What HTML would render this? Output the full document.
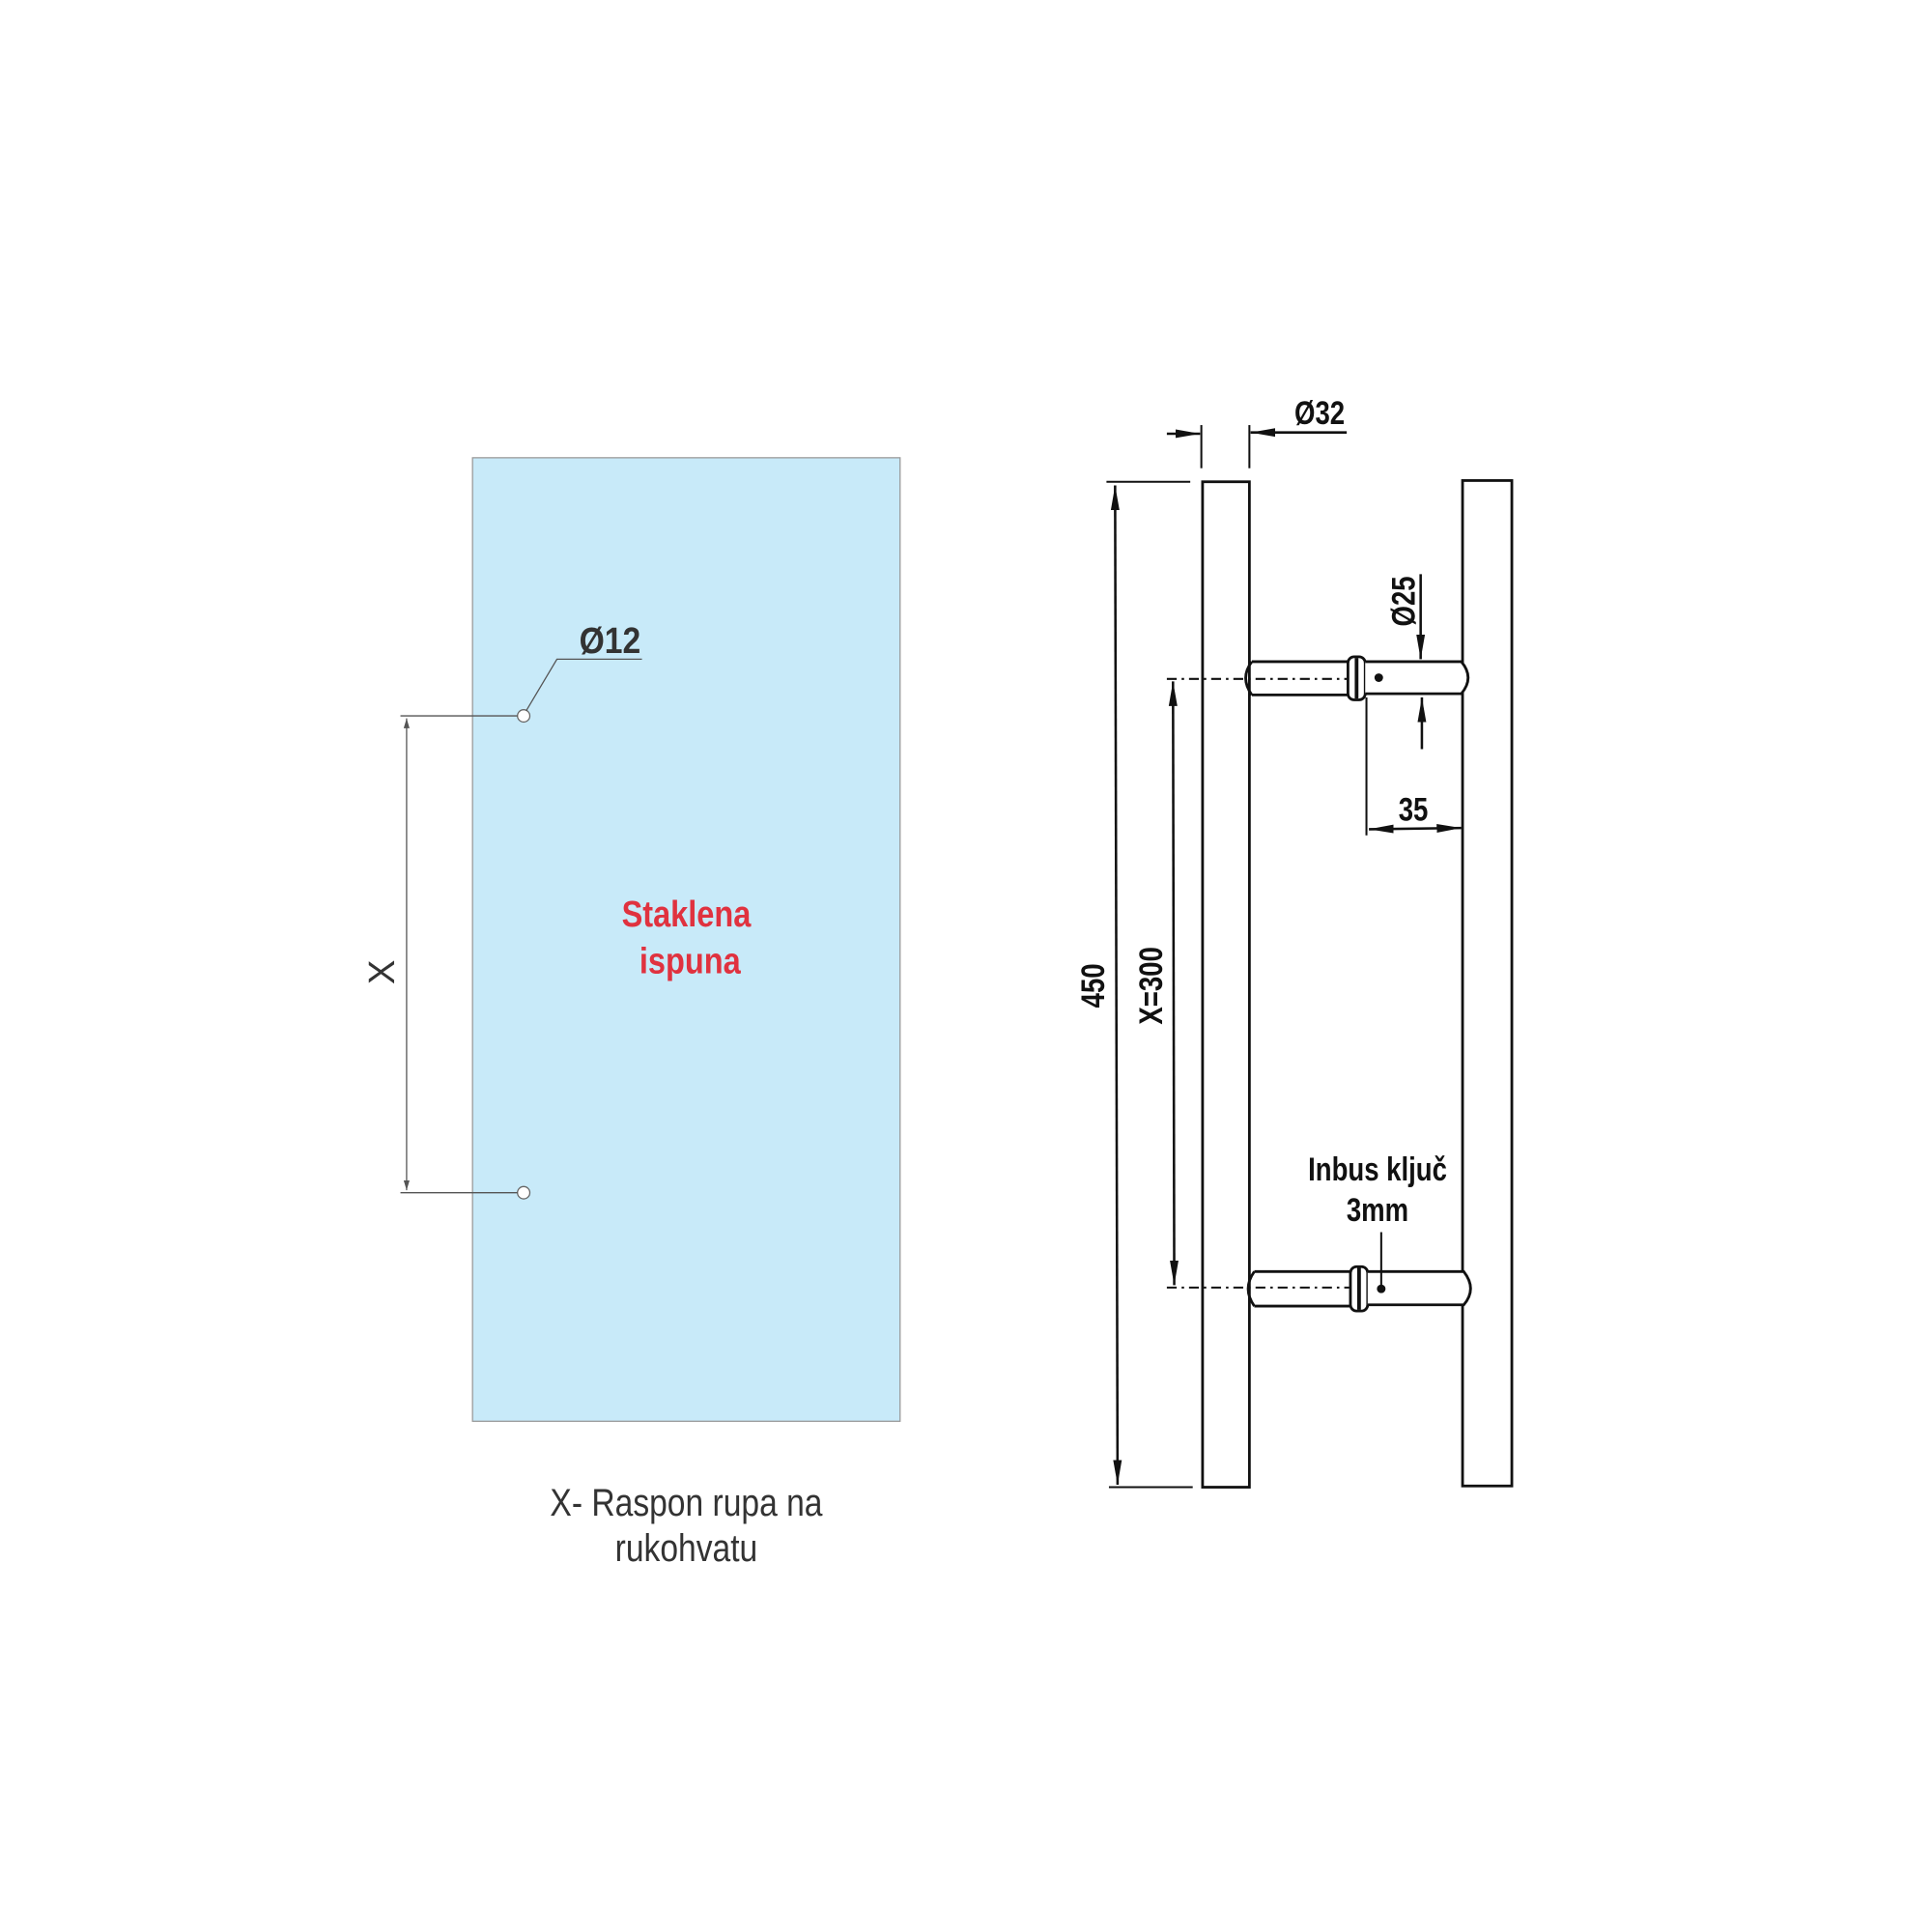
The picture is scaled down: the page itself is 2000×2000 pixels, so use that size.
<!DOCTYPE html>
<html><head><meta charset="utf-8"><style>html,body{margin:0;padding:0;background:#fff}svg{display:block}</style></head>
<body>
<svg width="2000" height="2000" viewBox="0 0 1568 1568" xmlns="http://www.w3.org/2000/svg" font-family="'Liberation Sans', sans-serif">
<defs>
<marker id="a" viewBox="0 0 10 10" refX="10" refY="5" markerWidth="8" markerHeight="8" orient="auto-start-reverse"><path d="M0,2 L10,5 L0,8 z" fill="#555"/></marker>
<marker id="b" viewBox="0 0 20 10" refX="20" refY="5" markerWidth="20" markerHeight="10" markerUnits="userSpaceOnUse" orient="auto-start-reverse"><path d="M0,1.5 L20,5 L0,8.5 z" fill="#111"/></marker>
</defs>
<rect x="0" y="0" width="1568" height="1568" fill="#fff"/>
<rect x="383.5" y="371.5" width="347" height="782" fill="#c8eaf9" stroke="#999" stroke-width="1"/>
<circle cx="425" cy="581" r="5" fill="#fff" stroke="#666"/>
<circle cx="425" cy="968" r="5" fill="#fff" stroke="#666"/>
<polyline points="427,577 452,535 521,535" fill="none" stroke="#555" stroke-width="1"/>
<text transform="translate(495,530) scale(0.88,1)" font-size="30" font-weight="bold" fill="#333" text-anchor="middle">Ø12</text>
<line x1="325" y1="581" x2="420" y2="581" stroke="#555"/>
<line x1="325" y1="968" x2="420" y2="968" stroke="#555"/>
<line x1="330" y1="583" x2="330" y2="966" stroke="#555" marker-start="url(#a)" marker-end="url(#a)"/>
<text transform="translate(320,789) rotate(-90)" font-size="30" fill="#333" text-anchor="middle">X</text>
<text transform="translate(557,752) scale(0.85,1)" font-size="30" font-weight="bold" fill="#e0323f" text-anchor="middle">Staklena</text>
<text transform="translate(560,790) scale(0.85,1)" font-size="30" font-weight="bold" fill="#e0323f" text-anchor="middle">ispuna</text>
<text transform="translate(557,1230) scale(0.85,1)" font-size="31" fill="#333" text-anchor="middle">X- Raspon rupa na</text>
<text transform="translate(557,1267) scale(0.85,1)" font-size="31" fill="#333" text-anchor="middle">rukohvatu</text>
<g stroke="#111" stroke-width="2.2" fill="none">
<rect x="976" y="391" width="38" height="816" fill="#fff"/>
<rect x="1187" y="390" width="40" height="816" fill="#fff"/>
<path d="M1016,537 L1095,537 M1016,564 L1095,564 M1016,537 Q1006,550 1016,564" />
<rect x="1094" y="533" width="14" height="35" rx="5" fill="#fff"/>
<line x1="1101" y1="534" x2="1101" y2="567" stroke-width="3"/>
<path d="M1108,537 L1186,537 Q1197,550 1186,563 L1108,563" fill="#fff"/>
<path d="M1018,1032 L1097,1032 M1018,1060 L1097,1060 M1018,1032 Q1008,1046 1018,1060" />
<rect x="1096" y="1028" width="14" height="36" rx="5" fill="#fff"/>
<line x1="1103" y1="1029" x2="1103" y2="1063" stroke-width="3"/>
<path d="M1110,1032 L1188,1032 Q1199,1046 1188,1059 L1110,1059" fill="#fff"/>
</g>
<circle cx="1119" cy="550" r="3.5" fill="#111"/>
<circle cx="1121" cy="1046" r="3.5" fill="#111"/>
<g stroke="#111" stroke-width="1.6" fill="none">
<line x1="947" y1="551" x2="1093" y2="551" stroke-dasharray="8,4,2,4"/>
<line x1="947" y1="1045" x2="1095" y2="1045" stroke-dasharray="8,4,2,4"/>
<line x1="898" y1="391" x2="966" y2="391"/>
<line x1="900" y1="1207" x2="968" y2="1207"/>
<line x1="905" y1="394" x2="907" y2="1205" stroke-width="2" marker-start="url(#b)" marker-end="url(#b)"/>
<line x1="952" y1="553" x2="953" y2="1043" stroke-width="2" marker-start="url(#b)" marker-end="url(#b)"/>
<line x1="975" y1="345" x2="975" y2="380"/>
<line x1="1014" y1="345" x2="1014" y2="380"/>
<line x1="947" y1="352" x2="974" y2="352" stroke-width="2" marker-end="url(#b)"/>
<line x1="1093" y1="351" x2="1015" y2="351" stroke-width="2" marker-end="url(#b)"/>
<line x1="1153" y1="466" x2="1153" y2="535" stroke-width="2" marker-end="url(#b)"/>
<line x1="1154" y1="608" x2="1154" y2="566" stroke-width="2" marker-end="url(#b)"/>
<line x1="1109" y1="566" x2="1109" y2="678"/>
<line x1="1111" y1="673" x2="1186" y2="672" stroke-width="2" marker-start="url(#b)" marker-end="url(#b)"/>
<line x1="1121" y1="1000" x2="1121" y2="1044"/>
</g>
<g fill="#111" font-size="27" font-weight="bold" text-anchor="middle">
<text transform="translate(1071,344) scale(0.8,1)">Ø32</text>
<text transform="translate(1148,488) rotate(-90) scale(0.8,1)">Ø25</text>
<text transform="translate(1147,666) scale(0.8,1)">35</text>
<text transform="translate(896,800) rotate(-90) scale(0.8,1)">450</text>
<text transform="translate(943,800) rotate(-90) scale(0.8,1)">X=300</text>
<text transform="translate(1118,958) scale(0.8,1)">Inbus ključ</text>
<text transform="translate(1118,991) scale(0.8,1)">3mm</text>
</g>
</svg>
</body></html>
